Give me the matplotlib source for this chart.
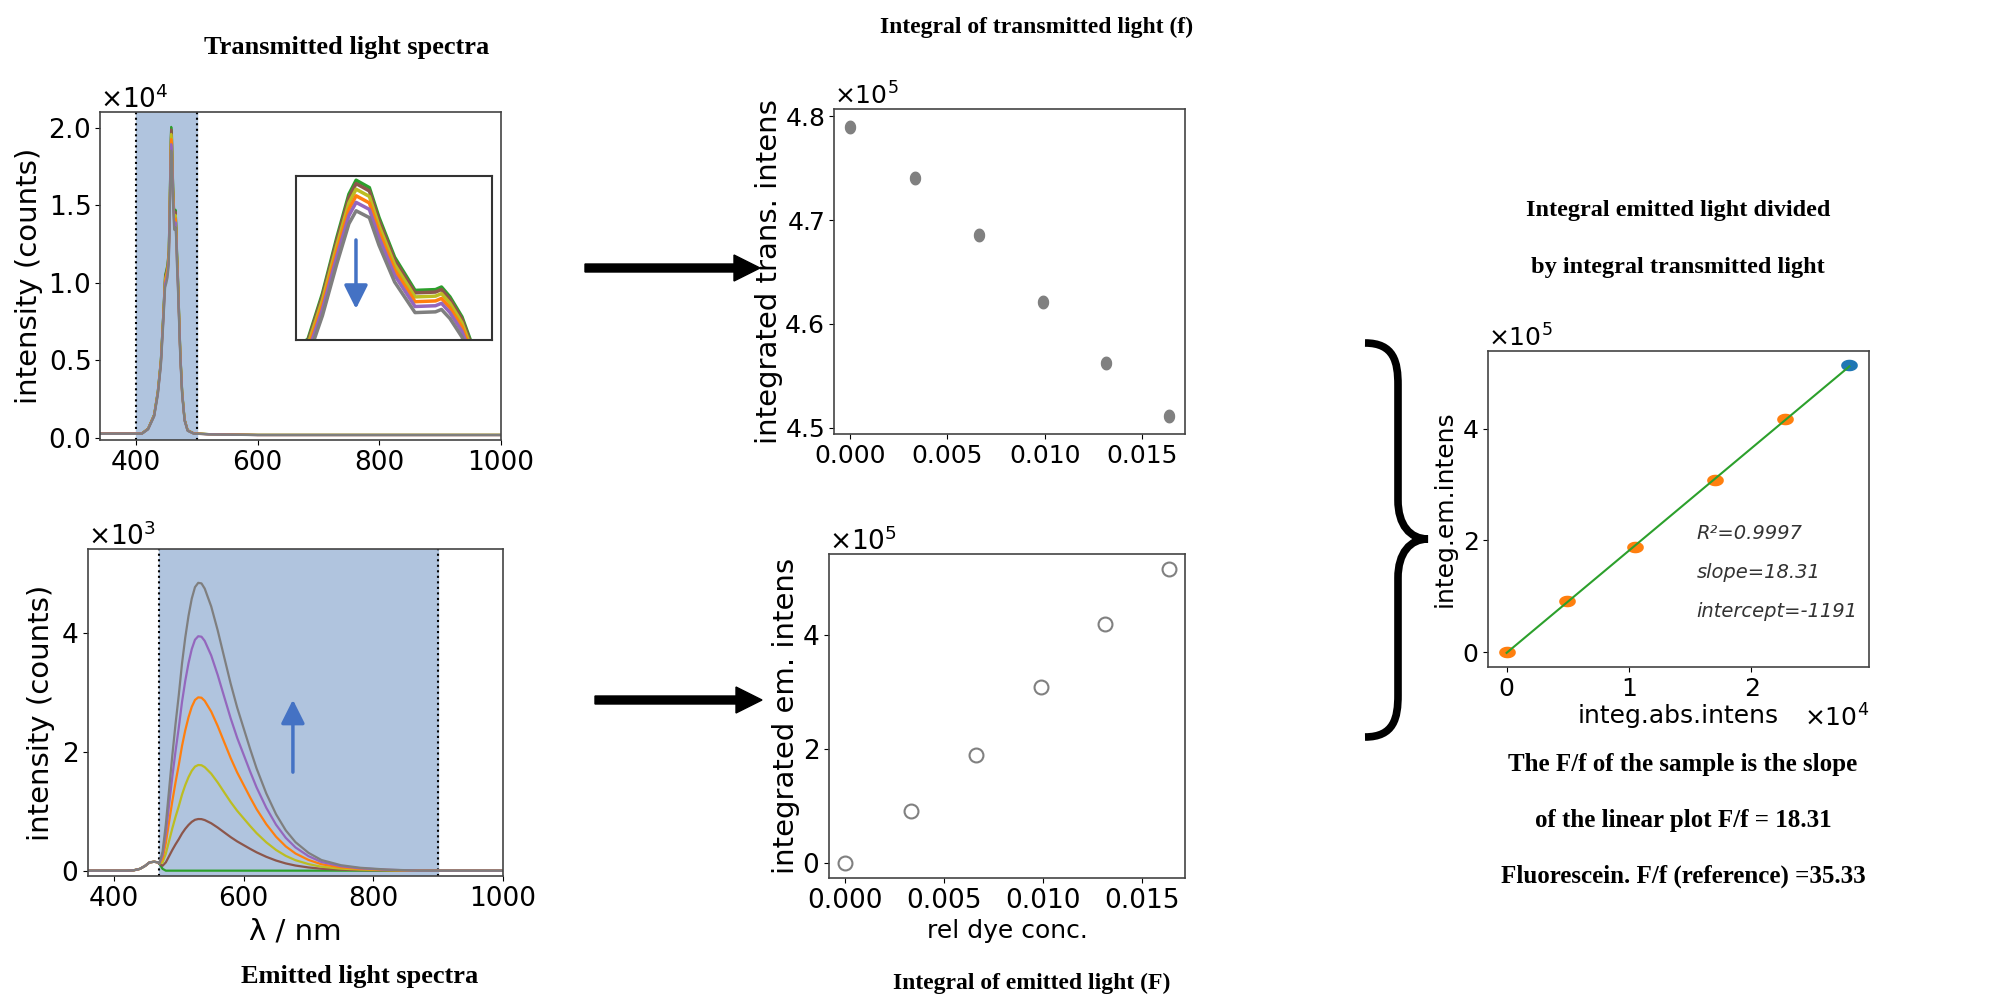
import numpy as np
import matplotlib.pyplot as plt
from matplotlib.path import Path
import matplotlib.patches as mpatches

# transmitted light spectra (blank curve, counts) and peak heights of the samples
tr_wl = [340, 380, 410, 420, 430, 436, 441, 445, 448, 450, 452, 454, 455.2, 456.4, 457.4, 458,
         459.1, 459.9, 461.2, 462.9, 464.6, 465.1, 465.8, 466.8, 467.5, 469, 471, 473, 476, 480,
         485, 495, 520, 600, 800, 1000]
tr_base = [300, 300, 300, 600, 1500, 3000, 5000, 8000, 10500, 10800, 11200, 12100, 14370, 17180,
           19340, 20040, 19670, 18180, 16190, 14530, 14570, 14700, 14210, 13210, 12050, 10500,
           8000, 5500, 3000, 1200, 500, 300, 250, 200, 200, 200]
tr_peaks = [20040, 19870, 19590, 19260, 18930, 18510]

# emitted light spectra
em_wl = [360, 420, 430, 440, 448, 455, 462, 468, 470, 475, 480, 485, 490, 495, 500, 505, 510, 515,
         520, 525, 530, 535, 540, 550, 560, 570, 580, 590, 600, 610, 620, 635, 650, 665, 680, 700,
         720, 750, 780, 820, 870, 1000]
em_leak = [0, 0, 5, 30, 80, 140, 150, 140, 120, 30, 0] + [0] * 31
em_profile = [0, 0, 0, 0, 0, 0, 0, 0, 0, 0.06, 0.16, 0.28, 0.40, 0.51, 0.61, 0.72, 0.81, 0.885,
              0.945, 0.985, 1.0, 0.998, 0.98, 0.918, 0.835, 0.742, 0.65, 0.567, 0.495, 0.423,
              0.355, 0.268, 0.196, 0.14, 0.099, 0.062, 0.037, 0.019, 0.01, 0.004, 0.0, 0.0]
em_peaks = [0, 870, 1780, 2920, 3950, 4850]

sample_colors = ['tab:green', 'tab:brown', 'tab:olive', 'tab:orange', 'tab:purple', 'tab:gray']

# integrals
conc = [0.0, 0.00334, 0.00663, 0.00990, 0.01315, 0.01640]
trans_int = [4.790e5, 4.741e5, 4.686e5, 4.621e5, 4.5625e5, 4.511e5]
em_int = [0.0, 0.91e5, 1.89e5, 3.09e5, 4.18e5, 5.14e5]
abs_int = [0.0, 0.495e4, 1.048e4, 1.706e4, 2.272e4, 2.80e4]
fit_slope = 18.31
fit_intercept = -1191
fit_r2 = 0.9997

plt.rcParams['font.family'] = 'DejaVu Sans'
plt.rcParams['font.size'] = 17
plt.rcParams['axes.edgecolor'] = '#444444'
plt.rcParams['axes.linewidth'] = 1.2

W, H = 1995, 998
fig = plt.figure(figsize=(W / 100, H / 100), dpi=100)


def box(x0, y0, x1, y1):
    # pixel box (top-left origin) -> figure fraction rect
    return [x0 / W, 1 - y1 / H, (x1 - x0) / W, (y1 - y0) / H]


def style(ax, tick_fs, axes=('y',)):
    ax.tick_params(labelsize=tick_fs)
    for a in axes:
        ax.ticklabel_format(style='sci', axis=a, scilimits=(0, 0), useMathText=True, useOffset=False)
        off = ax.yaxis.get_offset_text() if a == 'y' else ax.xaxis.get_offset_text()
        off.set_fontsize(tick_fs)


serif = dict(family='Liberation Serif', weight='bold')
blue_arrow = '#4472C4'
head = dict(arrowstyle='-|>,head_length=0.8,head_width=0.4', color=blue_arrow,
            lw=2.5, mutation_scale=18, shrinkA=0, shrinkB=0)

# ---- transmitted spectra
ax1 = fig.add_axes(box(100, 112, 501, 440))
ax1.axvspan(400, 500, color='lightsteelblue', zorder=0)
ax1.axvline(400, color='black', ls=':', lw=1.5)
ax1.axvline(500, color='black', ls=':', lw=1.5)
tr_base_arr = np.array(tr_base, dtype=float)
for pk, c in zip(tr_peaks, sample_colors):
    ax1.plot(tr_wl, tr_base_arr * pk / tr_base_arr.max(), color=c, lw=1.6)
ax1.set_xlim(341, 1000)
ax1.set_ylim(-130, 21000)
ax1.set_xticks([400, 600, 800, 1000])
ax1.set_yticks([0, 5000, 10000, 15000, 20000])
ax1.set_ylabel('intensity (counts)', fontsize=21)
style(ax1, 19)

# inset
axi = fig.add_axes(box(296, 176, 492, 340))
for pk, c in zip(tr_peaks, sample_colors):
    axi.plot(tr_wl, tr_base_arr * pk / tr_base_arr.max(), color=c, lw=2.5)
axi.set_xlim(453, 469.3)
axi.set_ylim(12050, 20250)
axi.set_xticks([])
axi.set_yticks([])
for s in axi.spines.values():
    s.set_color('#333333')
    s.set_linewidth(1.5)
axi.annotate('', xy=(0.306, 0.19), xytext=(0.306, 0.61), xycoords='axes fraction', arrowprops=head)

# ---- emitted spectra
ax2 = fig.add_axes(box(88, 549, 503, 876))
ax2.axvspan(470, 900, color='lightsteelblue', zorder=0)
ax2.axvline(470, color='black', ls=':', lw=1.5)
ax2.axvline(900, color='black', ls=':', lw=1.5)
leak = np.array(em_leak, dtype=float)
prof = np.array(em_profile, dtype=float)
for pk, c in zip(em_peaks, sample_colors):
    ax2.plot(em_wl, leak + pk * prof, color=c, lw=1.6)
ax2.set_xlim(360, 1000)
ax2.set_ylim(-90, 5420)
ax2.set_xticks([400, 600, 800, 1000])
ax2.set_yticks([0, 2000, 4000])
ax2.set_ylabel('intensity (counts)', fontsize=21)
ax2.set_xlabel('λ / nm', fontsize=21, labelpad=4)
style(ax2, 19)
ax2.annotate('', xy=(676, 2880), xytext=(676, 1660), arrowprops=head)

# ---- integral of transmitted light
ax3 = fig.add_axes(box(834, 109, 1185, 434))
t = np.linspace(0, 2 * np.pi, 40)
tall_oval = np.column_stack([0.8 * np.cos(t), np.sin(t)])
ax3.plot(conc, trans_int, ls='none', marker=tall_oval, ms=9, color='gray')
ax3.set_xlim(-0.00082, 0.0172)
ax3.set_ylim(4.494e5, 4.807e5)
ax3.set_xticks([0, 0.005, 0.010, 0.015])
ax3.set_yticks([4.5e5, 4.6e5, 4.7e5, 4.8e5])
ax3.set_ylabel('integrated trans. intens', fontsize=21)
style(ax3, 18)
ax3.yaxis.set_label_coords(-0.145, 0.5)

# ---- integral of emitted light
ax4 = fig.add_axes(box(829, 554, 1185, 878))
ax4.plot(conc, em_int, ls='none', marker='o', ms=10, mfc='none', mec='gray', mew=1.5)
ax4.set_xlim(-0.00079, 0.01719)
ax4.set_ylim(-0.257e5, 5.41e5)
ax4.set_xticks([0, 0.005, 0.010, 0.015])
ax4.set_yticks([0, 2e5, 4e5])
ax4.set_ylabel('integrated em. intens', fontsize=21)
ax4.set_xlabel('rel dye conc.', fontsize=18, labelpad=4)
style(ax4, 19)
ax4.yaxis.set_label_coords(-0.082, 0.5)

# ---- F vs f linear plot
ax5 = fig.add_axes(box(1488, 351, 1869, 667))
wide_oval = np.column_stack([1.5 * np.cos(t), np.sin(t)])
ax5.plot(abs_int[:-1], em_int[:-1], ls='none', marker=wide_oval, ms=11, color='tab:orange')
ax5.plot(abs_int[-1:], em_int[-1:], ls='none', marker=wide_oval, ms=11, color='tab:blue')
fit_x = np.array([abs_int[0], abs_int[-1]])
ax5.plot(fit_x, fit_slope * fit_x + fit_intercept, color='tab:green', lw=1.5)
ax5.set_xlim(-0.152e4, 2.96e4)
ax5.set_ylim(-0.265e5, 5.39e5)
ax5.set_xticks([0, 1e4, 2e4])
ax5.set_yticks([0, 2e5, 4e5])
ax5.set_ylabel('integ.em.intens', fontsize=18)
ax5.set_xlabel('integ.abs.intens', fontsize=18, labelpad=2)
style(ax5, 18, ('y', 'x'))
for yv, txt in zip([2.12e5, 1.42e5, 0.735e5],
                   [f'R²={fit_r2}', f'slope={fit_slope}', f'intercept={fit_intercept}']):
    ax5.text(1.55e4, yv, txt, style='italic', fontsize=14, color='#333333', va='center')

# ---- overlay: titles, arrows, brace
ov = fig.add_axes([0, 0, 1, 1])
ov.set_xlim(0, W)
ov.set_ylim(H, 0)
ov.axis('off')

ov.text(347, 47, 'Transmitted light spectra', ha='center', va='center', fontsize=19, **serif)
ov.text(1037, 27, 'Integral of transmitted light (f)', ha='center', va='center', fontsize=17, **serif)
ov.text(360, 977, 'Emitted light spectra', ha='center', va='center', fontsize=19, **serif)
ov.text(1032, 983, 'Integral of emitted light (F)', ha='center', va='center', fontsize=17, **serif)
ov.text(1678, 210, 'Integral emitted light divided', ha='center', va='center', fontsize=17.5, **serif)
ov.text(1678, 268, 'by integral transmitted light', ha='center', va='center', fontsize=17.5, **serif)
ov.text(1683, 765, 'The F/f of the sample is the slope', ha='center', va='center', fontsize=18, **serif)
ov.text(1683, 820, 'of the linear plot F/f = 18.31', ha='center', va='center', fontsize=18, **serif)
ov.text(1683, 876, 'Fluorescein. F/f (reference) =35.33', ha='center', va='center', fontsize=18, **serif)

ov.arrow(585, 268, 175, 0, width=8, head_width=26, head_length=26,
         length_includes_head=True, color='black')
ov.arrow(595, 700, 167, 0, width=8, head_width=26, head_length=26,
         length_includes_head=True, color='black')

verts = [(1365, 343), (1394, 343), (1398, 362), (1398, 385),
         (1398, 500),
         (1398, 525), (1410, 539), (1428, 539),
         (1410, 539), (1398, 553), (1398, 578),
         (1398, 695),
         (1398, 718), (1394, 737), (1365, 737)]
codes = [Path.MOVETO, Path.CURVE4, Path.CURVE4, Path.CURVE4,
         Path.LINETO,
         Path.CURVE4, Path.CURVE4, Path.CURVE4,
         Path.CURVE4, Path.CURVE4, Path.CURVE4,
         Path.LINETO,
         Path.CURVE4, Path.CURVE4, Path.CURVE4]
ov.add_patch(mpatches.PathPatch(Path(verts, codes), fill=False, lw=5.5, color='black',
                                capstyle='butt'))

fig.savefig('out.png', dpi=100)
